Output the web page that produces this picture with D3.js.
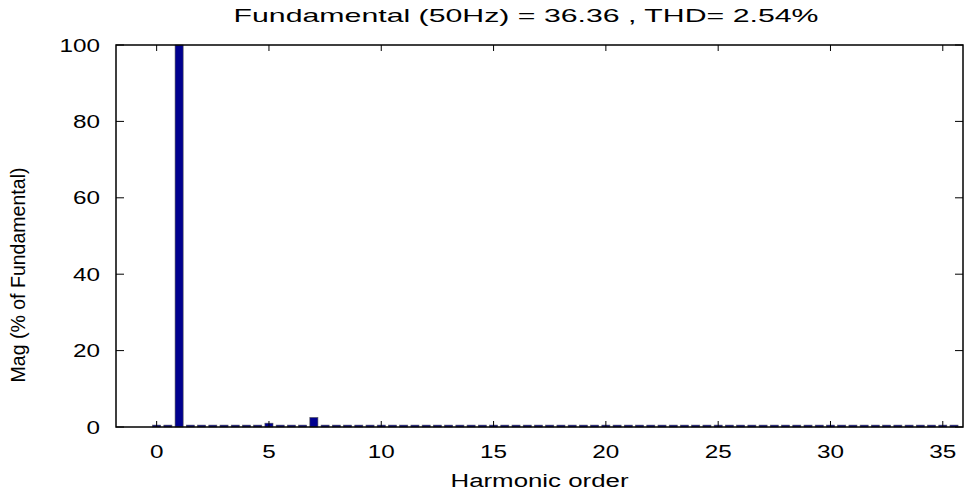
<!DOCTYPE html>
<html>
<head>
<meta charset="utf-8">
<script src="https://cdn.jsdelivr.net/npm/d3@7"></script>
<style>
  body { margin: 0; background: #fff; }
  text { font-family: "Liberation Sans", Arial, sans-serif; fill: #000; }
</style>
</head>
<body>
<svg id="chart" width="966" height="497"></svg>
<script>
// harmonic orders (half steps, as in the FFT analysis)
var orders = [0, 0.5, 1, 1.5, 2, 2.5, 3, 3.5, 4, 4.5, 5, 5.5, 6, 6.5, 7, 7.5, 8, 8.5, 9, 9.5,
    10, 10.5, 11, 11.5, 12, 12.5, 13, 13.5, 14, 14.5, 15, 15.5, 16, 16.5, 17, 17.5, 18, 18.5, 19, 19.5,
    20, 20.5, 21, 21.5, 22, 22.5, 23, 23.5, 24, 24.5, 25, 25.5, 26, 26.5, 27, 27.5, 28, 28.5, 29, 29.5,
    30, 30.5, 31, 31.5, 32, 32.5, 33, 33.5, 34, 34.5, 35, 35.5];
// magnitude in % of fundamental
var mags = [0.5, 0.5, 100, 0.5, 0.5, 0.5, 0.5, 0.5, 0.5, 0.5, 1.0, 0.5, 0.5, 0.5, 2.5, 0.5, 0.5, 0.5, 0.5, 0.5,
    0.5, 0.5, 0.5, 0.5, 0.5, 0.5, 0.5, 0.5, 0.5, 0.5, 0.5, 0.5, 0.5, 0.5, 0.5, 0.5, 0.5, 0.5, 0.5, 0.5,
    0.5, 0.5, 0.5, 0.5, 0.5, 0.5, 0.5, 0.5, 0.5, 0.5, 0.5, 0.5, 0.5, 0.5, 0.5, 0.5, 0.5, 0.5, 0.5, 0.5,
    0.5, 0.5, 0.5, 0.5, 0.5, 0.5, 0.5, 0.5, 0.5, 0.5, 0.5, 0.5];
var xTicks = [0, 5, 10, 15, 20, 25, 30, 35];
var yTicks = [0, 20, 40, 60, 80, 100];
var titleText = "Fundamental (50Hz) = 36.36 , THD= 2.54%";

var svg = d3.select("#chart"),
    margin = {top: 45, right: 3, bottom: 70, left: 116},
    width = +svg.attr("width") - margin.left - margin.right,
    height = +svg.attr("height") - margin.top - margin.bottom;

var g = svg.append("g")
    .attr("transform", "translate(" + margin.left + "," + margin.top + ")");

var x = d3.scaleLinear().domain([-1.81, 35.9]).range([0, width]);
var y = d3.scaleLinear().domain([0, 100]).range([height, 0]);
var barW = x(0.36) - x(0);

var data = orders.map(function(o, i) { return {order: o, mag: mags[i]}; });

g.selectAll(".bar")
    .data(data)
    .enter().append("rect")
    .attr("class", "bar")
    .attr("x", function(d) { return x(d.order) - barW / 2; })
    .attr("y", function(d) { return y(d.mag); })
    .attr("width", barW)
    .attr("height", function(d) { return height - y(d.mag); })
    .style("fill", "#00008f")
    .style("stroke", "#555")
    .style("stroke-width", 0.6);

// box
g.append("rect")
    .attr("width", width).attr("height", height)
    .style("fill", "none").style("stroke", "#000").style("stroke-width", 1.5);

// ticks, all pointing inward
var tx = g.append("g").attr("class", "axis axis--x");
xTicks.forEach(function(t) {
    tx.append("line").attr("x1", x(t)).attr("x2", x(t)).attr("y1", height).attr("y2", height - 6)
        .style("stroke", "#000");
    tx.append("line").attr("x1", x(t)).attr("x2", x(t)).attr("y1", 0).attr("y2", 6)
        .style("stroke", "#000");
    tx.append("text")
        .attr("transform", "translate(" + x(t) + "," + (height + 31) + ") scale(1.35,1)")
        .attr("text-anchor", "middle")
        .style("font-size", "18px")
        .text(t);
});

var ty = g.append("g").attr("class", "axis axis--y");
yTicks.forEach(function(t) {
    ty.append("line").attr("x1", 0).attr("x2", 8).attr("y1", y(t)).attr("y2", y(t))
        .style("stroke", "#000");
    ty.append("line").attr("x1", width).attr("x2", width - 8).attr("y1", y(t)).attr("y2", y(t))
        .style("stroke", "#000");
    ty.append("text")
        .attr("transform", "translate(-16," + (y(t) + 6.5) + ") scale(1.35,1)")
        .attr("text-anchor", "end")
        .style("font-size", "18px")
        .text(t);
});

// labels
svg.append("text")
    .attr("x", 526).attr("y", 22)
    .attr("text-anchor", "middle")
    .attr("textLength", 585).attr("lengthAdjust", "spacingAndGlyphs")
    .style("font-size", "19px")
    .text(titleText);

svg.append("text")
    .attr("x", margin.left + width / 2).attr("y", 487)
    .attr("text-anchor", "middle")
    .attr("textLength", 178).attr("lengthAdjust", "spacingAndGlyphs")
    .style("font-size", "18px")
    .text("Harmonic order");

svg.append("text")
    .attr("transform", "translate(25,275) rotate(-90)")
    .attr("text-anchor", "middle")
    .attr("textLength", 215).attr("lengthAdjust", "spacingAndGlyphs")
    .style("font-size", "21px")
    .text("Mag (% of Fundamental)");
</script>
</body>
</html>
